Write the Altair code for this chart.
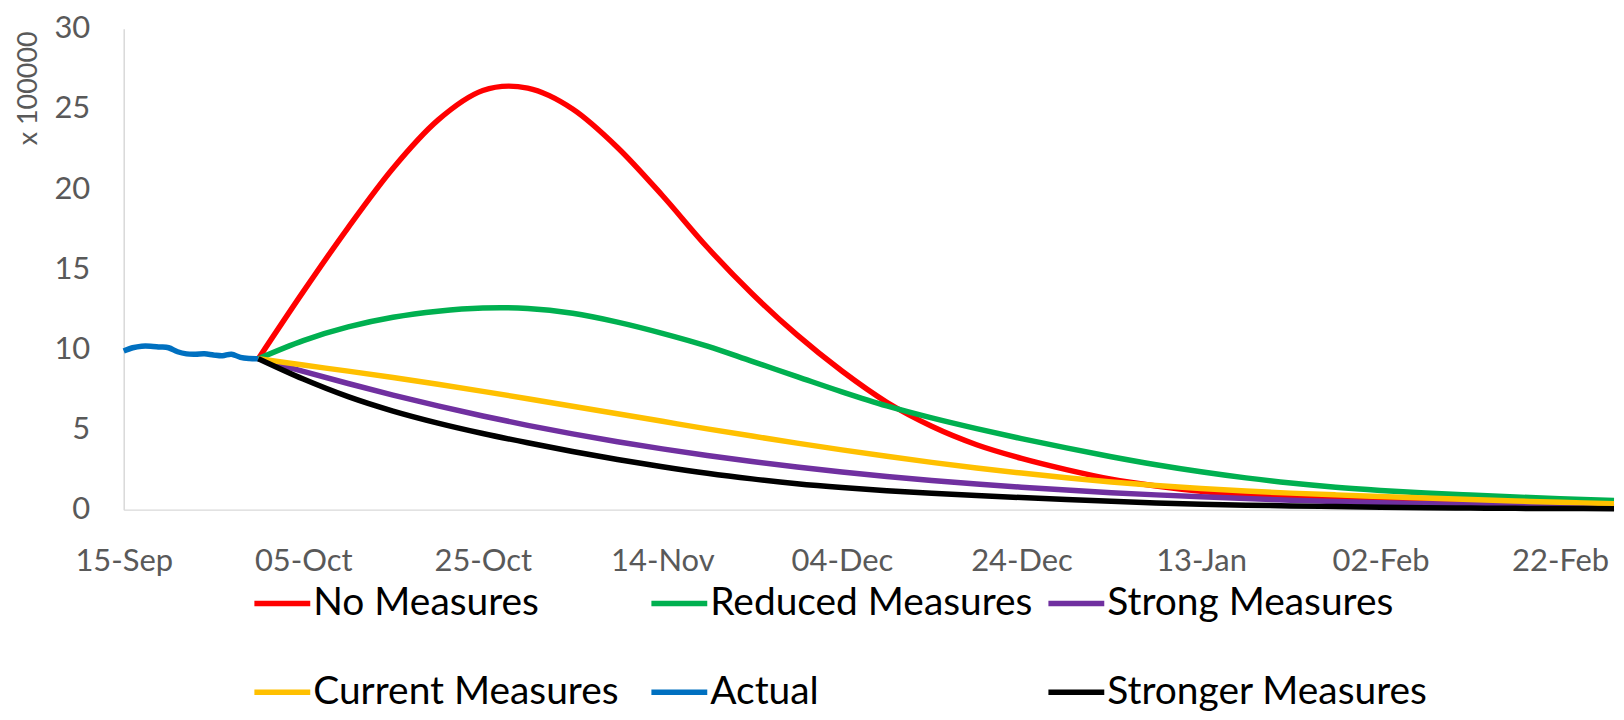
import altair as alt
import pandas as pd

# ---------------- data (values in units of 100000) ----------------
series_names = ["No Measures", "Reduced Measures", "Strong Measures",
                "Current Measures", "Actual", "Stronger Measures"]
series_colors = ["#FF0000", "#00B050", "#7030A0", "#FFC000", "#0070C0", "#000000"]

actual_dates = ["2020-09-15", "2020-09-16", "2020-09-17", "2020-09-18",
                "2020-09-19", "2020-09-20", "2020-09-21", "2020-09-22",
                "2020-09-23", "2020-09-24", "2020-09-25", "2020-09-26",
                "2020-09-27", "2020-09-28", "2020-09-29", "2020-09-30"]
actual_values = [9.9, 10.1, 10.2, 10.2, 10.15, 10.1, 9.85, 9.72,
                 9.7, 9.72, 9.65, 9.6, 9.7, 9.5, 9.43, 9.42]

scenario_dates = ["2020-09-30", "2020-10-05", "2020-10-10", "2020-10-15",
                  "2020-10-20", "2020-10-25", "2020-10-30",
                  "2020-11-04", "2020-11-09", "2020-11-14", "2020-11-19",
                  "2020-11-24", "2020-11-29", "2020-12-04", "2020-12-09",
                  "2020-12-14", "2020-12-19", "2020-12-24", "2020-12-29",
                  "2021-01-03", "2021-01-08", "2021-01-13", "2021-01-18",
                  "2021-01-23", "2021-01-28", "2021-02-02", "2021-02-07",
                  "2021-02-12", "2021-02-17", "2021-02-22", "2021-02-28"]

no_measures = [9.42, 13.6, 17.6, 21.3, 24.3, 26.15, 26.3,
               25.0, 22.6, 19.6, 16.37, 13.47, 10.9, 8.65, 6.7,
               5.2, 4.05, 3.2, 2.5, 1.9, 1.48, 1.15, 0.92,
               0.76, 0.63, 0.53, 0.44, 0.36, 0.29, 0.23, 0.18]
reduced_measures = [9.42, 10.55, 11.4, 12.0, 12.38, 12.58, 12.55,
                    12.25, 11.7, 11.0, 10.2, 9.25, 8.3, 7.35, 6.47,
                    5.72, 5.05, 4.43, 3.85, 3.3, 2.8, 2.36, 1.98,
                    1.66, 1.4, 1.2, 1.04, 0.91, 0.79, 0.68, 0.57]
strong_measures = [9.42, 8.62, 7.87, 7.15, 6.47, 5.84, 5.26,
                   4.73, 4.24, 3.79, 3.38, 3.0, 2.66, 2.35, 2.07,
                   1.82, 1.6, 1.4, 1.22, 1.06, 0.92, 0.8, 0.69,
                   0.59, 0.5, 0.43, 0.37, 0.32, 0.27, 0.23, 0.19]
current_measures = [9.42, 9.02, 8.64, 8.24, 7.82, 7.38, 6.92,
                    6.45, 5.98, 5.51, 5.04, 4.59, 4.15, 3.73, 3.33,
                    2.95, 2.6, 2.28, 1.99, 1.73, 1.51, 1.32, 1.16,
                    1.03, 0.92, 0.82, 0.72, 0.63, 0.54, 0.46, 0.37]
stronger_measures = [9.42, 8.15, 7.05, 6.15, 5.4, 4.75, 4.17,
                     3.63, 3.13, 2.68, 2.27, 1.92, 1.62, 1.38, 1.18,
                     1.02, 0.88, 0.75, 0.63, 0.52, 0.42, 0.34, 0.28,
                     0.23, 0.19, 0.15, 0.12, 0.1, 0.08, 0.07, 0.06]

tick_dates = ["2020-09-15", "2020-10-05", "2020-10-25", "2020-11-14",
              "2020-12-04", "2020-12-24", "2021-01-13", "2021-02-02",
              "2021-02-22"]
y_ticks = [0, 5, 10, 15, 20, 25, 30]
x_domain = ["2020-09-15", "2021-02-28"]

# ---------------- build table (draw order = series order) ----------------
series_data = [
    ("No Measures", scenario_dates, no_measures),
    ("Reduced Measures", scenario_dates, reduced_measures),
    ("Strong Measures", scenario_dates, strong_measures),
    ("Current Measures", scenario_dates, current_measures),
    ("Actual", actual_dates, actual_values),
    ("Stronger Measures", scenario_dates, stronger_measures),
]
rows = []
for order, (name, dates, vals) in enumerate(series_data):
    for d, v in zip(dates, vals):
        rows.append({"date": d, "value": v, "series": name, "k": order})
df = pd.DataFrame(rows)


def ms(s):
    return int(pd.Timestamp(s, tz="UTC").timestamp() * 1000)


FONT = "Lato"
GRAY = "#595959"

chart = alt.Chart(df).mark_line(strokeWidth=5.5, interpolate="cardinal").encode(
    x=alt.X("date:T",
            scale=alt.Scale(type="utc", domain=[ms(x_domain[0]), ms(x_domain[1])]),
            axis=alt.Axis(values=[ms(t) for t in tick_dates], format="%d-%b",
                          title=None, grid=False, ticks=False, tickSize=0,
                          domainColor="#D9D9D9", domainWidth=1.5,
                          labelFont=FONT, labelFontSize=31, labelColor=GRAY,
                          labelPadding=37, labelFlush=False, labelOverlap=False)),
    y=alt.Y("value:Q",
            scale=alt.Scale(domain=[0, 30], nice=False, zero=True),
            axis=alt.Axis(values=y_ticks, grid=False, ticks=False, tickSize=0,
                          domainColor="#D9D9D9", domainWidth=1.5,
                          labelFont=FONT, labelFontSize=31, labelColor=GRAY,
                          labelPadding=34,
                          title="x 100000", titleFont=FONT, titleFontSize=27,
                          titleFontWeight="normal", titleColor=GRAY,
                          titleX=-95, titleY=2, titleAngle=270,
                          titleAlign="right", titleBaseline="middle")),
    color=alt.Color("series:N",
                    scale=alt.Scale(domain=series_names, range=series_colors),
                    legend=alt.Legend(orient="none", legendX=128, legendY=545,
                                      direction="horizontal", columns=3,
                                      gridAlign="all", columnPadding=4,
                                      rowPadding=38, padding=0,
                                      symbolType="stroke", symbolSize=3136,
                                      symbolStrokeWidth=5.5, labelOffset=0,
                                      labelFont=FONT, labelFontSize=39,
                                      labelColor="#000000", labelLimit=0,
                                      title=None)),
    detail="k:O",
).properties(
    width=1494, height=482,
    autosize="none",
    padding={"left": 116, "top": 20, "right": 2, "bottom": 202},
).configure_view(stroke=None)

chart.save("out.html", embed_options={"renderer": "svg", "actions": False})
